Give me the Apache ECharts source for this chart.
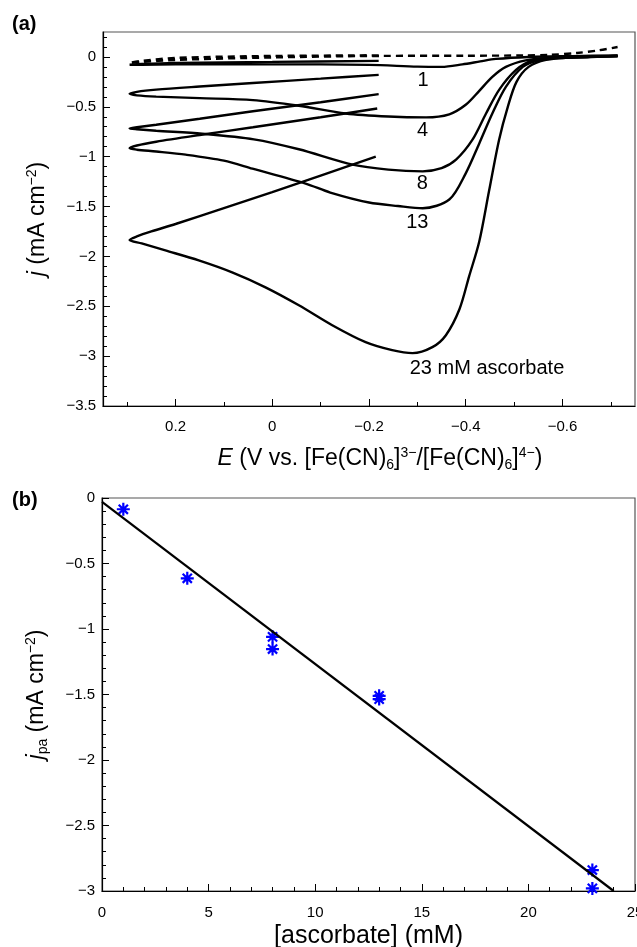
<!DOCTYPE html>
<html>
<head>
<meta charset="utf-8">
<script src="https://cdn.jsdelivr.net/npm/echarts@6/dist/echarts.min.js"></script>
<style>
html,body{margin:0;padding:0;background:#fff;}
#chart{width:637px;height:947px;}
</style>
</head>
<body>
<div id="chart"></div>
<script>
var FONT = '"Liberation Sans", Arial, Helvetica, sans-serif';

// (a) voltammograms, points are [E (V), j (mA cm-2)], sweep -0.22 -> +0.3 -> -0.72
var cv0 = [[-0.22,0.015],[0.0,0.01],[0.2,-0.01],[0.27,-0.04],[0.295,-0.06],[0.27,-0.05],[0.2,-0.03],[0.0,-0.005],
    [-0.22,0.01],[-0.4,0.012],[-0.52,0.015],[-0.573,0.02],[-0.63,0.04],[-0.676,0.067],[-0.714,0.1]];
var cv1 = [[-0.22,-0.04],[0.0,-0.05],[0.2,-0.06],[0.27,-0.07],[0.295,-0.078],[0.27,-0.078],[0.2,-0.075],[0.0,-0.072],
    [-0.2,-0.08],[-0.3,-0.097],[-0.35,-0.1],[-0.393,-0.075],[-0.43,-0.045],[-0.462,-0.02],[-0.53,0.0],[-0.62,0.008],[-0.714,0.015]];
var cv4 = [[-0.22,-0.18],[-0.1,-0.218],[0.04,-0.262],[0.15,-0.297],[0.24,-0.328],[0.28,-0.35],[0.295,-0.37],
    [0.28,-0.385],[0.24,-0.398],[0.15,-0.413],[0.04,-0.433],[-0.055,-0.49],[-0.152,-0.567],[-0.24,-0.597],[-0.318,-0.606],
    [-0.366,-0.575],[-0.4,-0.48],[-0.428,-0.34],[-0.455,-0.2],[-0.483,-0.1],[-0.524,-0.035],[-0.57,-0.01],[-0.64,0.0],[-0.714,0.01]];
var cv8 = [[-0.22,-0.373],[-0.1,-0.455],[0.04,-0.544],[0.15,-0.62],[0.24,-0.68],[0.28,-0.705],[0.295,-0.717],
    [0.28,-0.725],[0.24,-0.74],[0.145,-0.77],[0.038,-0.826],[-0.055,-0.926],[-0.166,-1.08],[-0.24,-1.13],[-0.311,-1.147],
    [-0.35,-1.115],[-0.38,-1.03],[-0.414,-0.83],[-0.442,-0.567],[-0.469,-0.33],[-0.504,-0.13],[-0.538,-0.035],[-0.58,-0.01],[-0.64,0.0],[-0.714,0.01]];
var cv13 = [[-0.217,-0.517],[-0.1,-0.605],[0.04,-0.705],[0.15,-0.783],[0.24,-0.85],[0.28,-0.888],[0.295,-0.915],
    [0.28,-0.93],[0.24,-0.948],[0.179,-0.98],[0.1,-1.04],[0.041,-1.12],[-0.069,-1.27],[-0.12,-1.36],[-0.2,-1.46],[-0.26,-1.495],[-0.311,-1.517],
    [-0.366,-1.43],[-0.4,-1.167],[-0.428,-0.867],[-0.455,-0.567],[-0.483,-0.3],[-0.518,-0.1],[-0.552,-0.033],[-0.6,-0.01],[-0.66,0.0],[-0.714,0.01]];
var cv23 = [[-0.214,-1.0],[-0.1,-1.19],[0.0,-1.355],[0.1,-1.515],[0.2,-1.675],[0.25,-1.75],[0.28,-1.8],[0.295,-1.835],
    [0.27,-1.87],[0.221,-1.94],[0.152,-2.04],[0.083,-2.16],[0.014,-2.31],[-0.055,-2.49],[-0.124,-2.69],[-0.193,-2.86],
    [-0.248,-2.94],[-0.29,-2.97],[-0.331,-2.91],[-0.359,-2.79],[-0.387,-2.53],[-0.407,-2.2],[-0.428,-1.85],[-0.448,-1.35],
    [-0.469,-0.83],[-0.487,-0.5],[-0.505,-0.25],[-0.53,-0.1],[-0.566,-0.03],[-0.62,-0.005],[-0.714,0.01]];
var curveNames = ['1', '4', '8', '13', '23 mM ascorbate'];
var curveNameE = [-0.312, -0.311, -0.31, -0.30, -0.444];
var curveNameJ = [-0.233, -0.733, -1.273, -1.663, -3.123];

var aXTicks = [0.2, 0, -0.2, -0.4, -0.6];
var aXMinor = [0.3, 0.1, -0.1, -0.3, -0.5, -0.7];
var aYTicks = [0, -0.5, -1, -1.5, -2, -2.5, -3, -3.5];

// (b) peak current vs concentration
var conc = [1, 4, 8, 8, 13, 13, 23, 23];
var jpa = [-0.086, -0.613, -1.06, -1.153, -1.51, -1.535, -2.84, -2.98];
var fitConc = [0, 24];
var fitJ = [-0.03, -3.0];

var aYMinor = [];
for (var k = -34; k <= 2; k++) {
    if (k % 5 !== 0) aYMinor.push(k / 10);
}

function fmt(v) {
    return String(v).replace('-', '\u2212');
}

var star = 'path://M8.3 0L11.7 0L11.7 20L8.3 20Z M0 8.3L20 8.3L20 11.7L0 11.7Z ' +
    'M4.13 1.73L18.27 15.87L15.87 18.27L1.73 4.13Z M15.87 1.73L18.27 4.13L4.13 18.27L1.73 15.87Z';

var nameRich = {
    i: {fontStyle: 'italic', fontSize: 23, fontFamily: FONT, lineHeight: 26},
    sub: {fontSize: 14, verticalAlign: 'bottom', lineHeight: 14, fontFamily: FONT},
    sup: {fontSize: 14, verticalAlign: 'top', lineHeight: 14, fontFamily: FONT}
};
var nameStyle = {fontSize: 23, color: '#000', fontFamily: FONT, lineHeight: 26, rich: nameRich};

function cvSeries(data, dashed) {
    return {
        type: 'line', xAxisIndex: 0, yAxisIndex: 0,
        data: data, showSymbol: false, smooth: 0.3, silent: true,
        lineStyle: {color: '#000', width: 2.4, type: dashed ? [7, 5] : 'solid'}
    };
}

var labelData = curveNames.map(function (n, i) {
    return [curveNameE[i], curveNameJ[i], n];
});

var option = {
    animation: false,
    backgroundColor: '#fff',
    graphic: [
        {type: 'text', left: 12, top: 14, style: {text: '(a)', font: 'bold 20px ' + FONT, fill: '#000'}},
        {type: 'text', left: 12, top: 490, style: {text: '(b)', font: 'bold 20px ' + FONT, fill: '#000'}}
    ],
    grid: [
        {left: 103, top: 32, right: 2, height: 374, show: true, borderColor: '#555', borderWidth: 1.2,
            containLabel: false, outerBoundsMode: 'none'},
        {left: 102, top: 498, right: 2, height: 393, show: true, borderColor: '#555', borderWidth: 1.2,
            containLabel: false, outerBoundsMode: 'none'}
    ],
    xAxis: [
        {
            gridIndex: 0, type: 'value', inverse: true, min: -0.75, max: 0.35, position: 'bottom',
            axisLine: {onZero: false, lineStyle: {color: '#000', width: 1.2}},
            axisTick: {inside: true, length: 7, customValues: aXTicks, lineStyle: {color: '#000'}},
            axisLabel: {customValues: aXTicks, formatter: fmt, margin: 13, fontSize: 15, color: '#000', fontFamily: FONT},
            splitLine: {show: false},
            name: '{i|E} (V vs. [Fe(CN){sub|6}]{sup|3\u2212}/[Fe(CN){sub|6}]{sup|4\u2212})',
            nameLocation: 'middle', nameGap: 40,
            nameTextStyle: Object.assign({}, nameStyle, {padding: [0, 0, 0, 22]})
        },
        {
            gridIndex: 0, type: 'value', inverse: true, min: -0.75, max: 0.35, position: 'bottom',
            axisLine: {show: false, onZero: false},
            axisTick: {inside: true, length: 4, customValues: aXMinor, lineStyle: {color: '#000'}},
            axisLabel: {show: false},
            splitLine: {show: false}
        },
        {
            gridIndex: 1, type: 'value', min: 0, max: 25, interval: 5, position: 'bottom',
            axisLine: {onZero: false, lineStyle: {color: '#000', width: 1.2}},
            axisTick: {inside: true, length: 7, lineStyle: {color: '#000'}},
            minorTick: {show: true, splitNumber: 5, length: 4, lineStyle: {color: '#000'}},
            axisLabel: {formatter: fmt, margin: 14, fontSize: 15, color: '#000', fontFamily: FONT},
            splitLine: {show: false},
            name: '[ascorbate] (mM)',
            nameLocation: 'middle', nameGap: 33, nameTextStyle: {fontSize: 25, color: '#000', fontFamily: FONT}
        }
    ],
    yAxis: [
        {
            gridIndex: 0, type: 'value', min: -3.5, max: 0.25, position: 'left',
            axisLine: {onZero: false, lineStyle: {color: '#000', width: 1.2}},
            axisTick: {inside: true, length: 7, customValues: aYTicks, lineStyle: {color: '#000'}},
            axisLabel: {customValues: aYTicks, formatter: fmt, margin: 7, fontSize: 15, color: '#000', fontFamily: FONT},
            splitLine: {show: false},
            name: '{i|j} (mA cm{sup|\u22122})',
            nameLocation: 'middle', nameGap: 52, nameTextStyle: nameStyle
        },
        {
            gridIndex: 0, type: 'value', min: -3.5, max: 0.25, position: 'left',
            axisLine: {show: false, onZero: false},
            axisTick: {inside: true, length: 4, customValues: aYMinor, lineStyle: {color: '#000'}},
            axisLabel: {show: false},
            splitLine: {show: false}
        },
        {
            gridIndex: 1, type: 'value', min: -3, max: 0, interval: 0.5, position: 'left',
            axisLine: {onZero: false, lineStyle: {color: '#000', width: 1.2}},
            axisTick: {inside: true, length: 7, lineStyle: {color: '#000'}},
            minorTick: {show: true, splitNumber: 5, length: 4, lineStyle: {color: '#000'}},
            axisLabel: {formatter: fmt, margin: 7, fontSize: 15, color: '#000', fontFamily: FONT},
            splitLine: {show: false},
            name: '{i|j}{sub|pa} (mA cm{sup|\u22122})',
            nameLocation: 'middle', nameGap: 52, nameTextStyle: nameStyle
        }
    ],
    series: [
        cvSeries(cv0, true),
        cvSeries(cv1),
        cvSeries(cv4),
        cvSeries(cv8),
        cvSeries(cv13),
        cvSeries(cv23),
        {
            type: 'scatter', xAxisIndex: 0, yAxisIndex: 0, silent: true,
            symbolSize: 0, data: labelData,
            itemStyle: {opacity: 1, color: 'rgba(0,0,0,0)'},
            label: {
                show: true, position: 'inside', fontSize: 20, color: '#000', fontFamily: FONT,
                formatter: function (p) { return p.value[2]; }
            }
        },
        {
            type: 'line', xAxisIndex: 2, yAxisIndex: 2, silent: true, showSymbol: false,
            data: fitConc.map(function (c, i) { return [c, fitJ[i]]; }),
            lineStyle: {color: '#000', width: 2.2}
        },
        {
            type: 'scatter', xAxisIndex: 2, yAxisIndex: 2, silent: true,
            symbol: star, symbolSize: 13,
            itemStyle: {color: '#0000ff', opacity: 1},
            data: conc.map(function (c, i) { return [c, jpa[i]]; })
        }
    ]
};

try {
    var chart = echarts.init(document.getElementById('chart'));
    chart.setOption(option);
} catch (e) {
    console.warn(e);
}
</script>
</body>
</html>
